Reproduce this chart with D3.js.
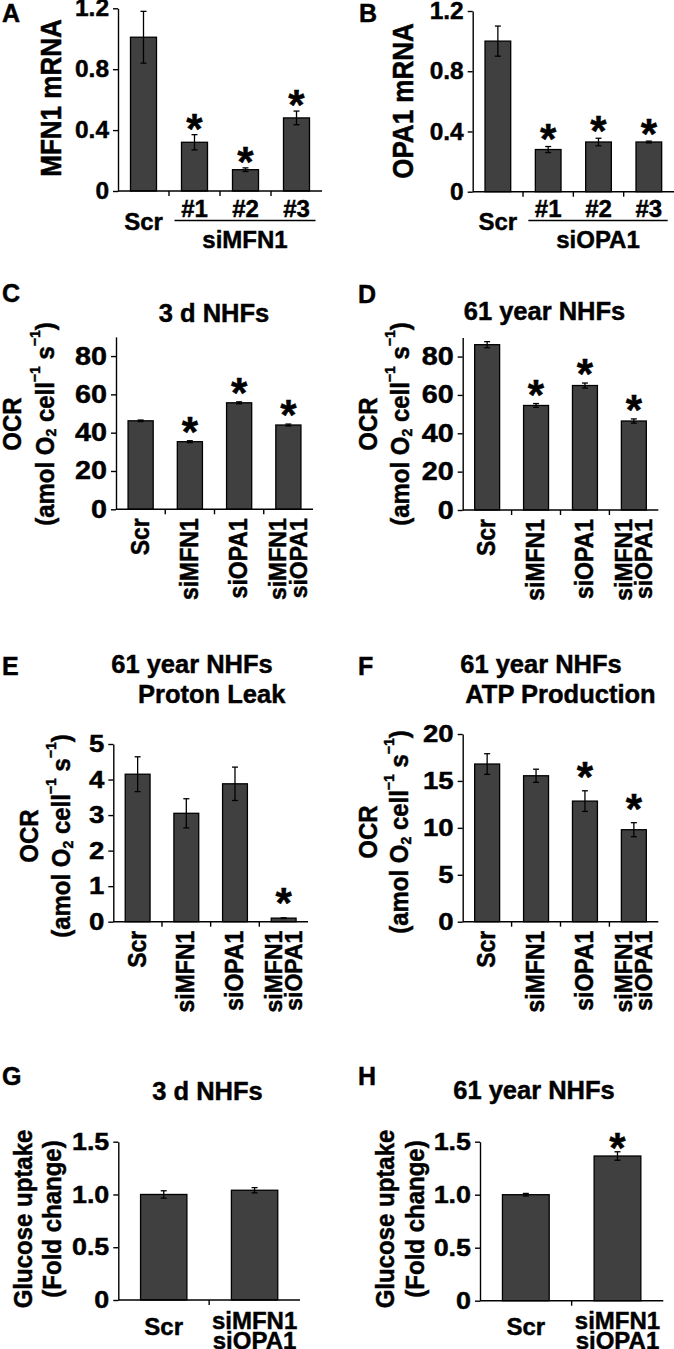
<!DOCTYPE html>
<html><head><meta charset="utf-8">
<script src="https://cdn.jsdelivr.net/npm/d3@7"></script>
<style>
body{margin:0;background:#fff}
svg{display:block}
text{font-family:"Liberation Sans",Arial,sans-serif;font-weight:bold;fill:#000;stroke:#000;stroke-width:0.45px}
</style>
</head><body>
<svg id="chart" width="674" height="1349"></svg>
<script>
// ---------- DATA ----------
const catsA = ["Scr", "#1", "#2", "#3"];
const valsA = [1.01, 0.32, 0.14, 0.48];
const errsA = [0.17, 0.05, 0.012, 0.045];
const sigA = [false, true, true, true];
const ticksA = [0, 0.4, 0.8, 1.2];
const tickLabelsA = ["0", "0.4", "0.8", "1.2"];

const catsB = ["Scr", "#1", "#2", "#3"];
const valsB = [1.0, 0.28, 0.33, 0.33];
const errsB = [0.1, 0.02, 0.025, 0.006];
const sigB = [false, true, true, true];
const ticksB = [0, 0.4, 0.8, 1.2];
const tickLabelsB = ["0", "0.4", "0.8", "1.2"];

const catsOCR = ["Scr", "siMFN1", "siOPA1", "siMFN1 siOPA1"];

const valsC = [46.2, 35.3, 55.6, 44.0];
const errsC = [0.4, 0.5, 0.5, 0.5];
const sigC = [false, true, true, true];
const ticksC = [0, 20, 40, 60, 80];

const valsD = [86.2, 54.5, 64.9, 46.4];
const errsD = [1.6, 1.0, 1.3, 1.1];
const sigD = [false, true, true, true];
const ticksD = [0, 20, 40, 60, 80];

const valsE = [4.15, 3.05, 3.88, 0.1];
const errsE = [0.49, 0.41, 0.47, 0.01];
const sigE = [false, false, false, true];
const ticksE = [0, 1, 2, 3, 4, 5];

const valsF = [16.8, 15.55, 12.85, 9.8];
const errsF = [1.1, 0.7, 1.1, 0.75];
const sigF = [false, false, true, true];
const ticksF = [0, 5, 10, 15, 20];

const catsGH = ["Scr", "siMFN1 siOPA1"];
const valsG = [1.0, 1.04];
const errsG = [0.035, 0.025];
const sigG = [false, false];
const valsH = [1.0, 1.365];
const errsH = [0.012, 0.04];
const sigH = [false, true];
const ticksGH = [0, 0.5, 1.0, 1.5];
const tickLabelsGH = ["0", "0.5", "1.0", "1.5"];

// ---------- DRAWING ----------
const svg = d3.select("#chart");
svg.append("rect").attr("width", 674).attr("height", 1349).attr("fill", "#fff");

const BAR_FILL = "#404040";

function panel(p) {
  const g = svg.append("g");
  const x = d3.scaleBand().domain(p.cats).range([p.x0, p.x1])
    .paddingInner(0.49).paddingOuter(0.245);
  const y = d3.scaleLinear().domain(p.domain).range([p.y0, p.y1]);
  const rows = p.cats.map((c, i) => ({c, v: p.vals[i], e: p.errs[i], s: p.sig[i]}));

  // bars
  g.selectAll("rect.bar").data(rows).join("rect")
    .attr("x", d => x(d.c)).attr("y", d => y(d.v))
    .attr("width", x.bandwidth()).attr("height", d => y(0) - y(d.v))
    .attr("fill", BAR_FILL).attr("stroke", "#000").attr("stroke-width", 1.3);

  // error bars
  const eb = g.selectAll("g.eb").data(rows.filter(d => d.e > 0)).join("g");
  const cx = d => x(d.c) + x.bandwidth() / 2;
  eb.append("line").attr("x1", cx).attr("x2", cx)
    .attr("y1", d => y(d.v - d.e)).attr("y2", d => y(d.v + d.e))
    .attr("stroke", "#000").attr("stroke-width", 1.3);
  [1, -1].forEach(sg => {
    eb.append("line").attr("x1", d => cx(d) - 3).attr("x2", d => cx(d) + 3)
      .attr("y1", d => y(d.v + sg * d.e)).attr("y2", d => y(d.v + sg * d.e))
      .attr("stroke", "#000").attr("stroke-width", 1.3);
  });

  // significance stars
  const fs = 42;
  g.selectAll("text.star").data(rows.filter(d => d.s)).join("text")
    .attr("x", cx).attr("y", d => y(d.v + d.e) - p.gap + 0.57 * fs)
    .attr("text-anchor", "middle").attr("font-size", fs).text("*");

  // y axis
  const ts = p.tickStretch || 1;
  const ya = d3.axisLeft(y).tickValues(p.ticks).tickSize(5).tickSizeOuter(0).tickPadding(4)
    .tickFormat((d, i) => p.tickLabels ? p.tickLabels[i] : d3.format("d")(d));
  const yg = g.append("g").attr("transform", `translate(${p.x0},0)`).call(ya);
  yg.attr("font-family", null).attr("font-size", null);
  yg.select(".domain").attr("stroke", "#000").attr("stroke-width", 1.4);
  yg.selectAll(".tick line").attr("stroke", "#000").attr("stroke-width", 1.4);
  yg.selectAll(".tick text").attr("font-size", p.tickFont || 24)
    .attr("fill", "#000").attr("x", -9 / ts).attr("transform", `scale(${ts},1)`);

  // x axis line + ticks at band boundaries
  g.append("line").attr("x1", p.x0).attr("x2", p.x1).attr("y1", p.y0).attr("y2", p.y0)
    .attr("stroke", "#000").attr("stroke-width", 1.4);
  const bounds = p.cats.slice(1).map(c => x(c) - x.step() * x.paddingInner() / 2);
  g.selectAll("line.xt").data(bounds).join("line")
    .attr("x1", d => d).attr("x2", d => d).attr("y1", p.y0).attr("y2", p.y0 + 5)
    .attr("stroke", "#000").attr("stroke-width", 1.4);

  // panel letter
  g.append("text").attr("x", p.letterX).attr("y", p.letterY)
    .attr("font-size", 25).text(p.letter);

  return {g, x, y};
}

function yTitle(g, cy, lines, fs, st) {
  lines.forEach(l => {
    const t = g.append("text")
      .attr("transform", `translate(${l.x},${cy}) rotate(-90) scale(1,${st || 1})`)
      .attr("text-anchor", "middle").attr("dominant-baseline", "central")
      .attr("font-size", fs);
    if (l.ocr) {
      t.append("tspan").text("(amol O");
      t.append("tspan").attr("dy", 6).attr("font-size", 14).text("2");
      t.append("tspan").attr("dy", -6).text(" cell");
      t.append("tspan").attr("dy", -9).attr("font-size", 14).text("\u22121");
      t.append("tspan").attr("dy", 9).text(" s");
      t.append("tspan").attr("dy", -9).attr("font-size", 14).text("\u22121");
      t.append("tspan").attr("dy", 9).text(")");
    } else {
      t.text(l.text);
    }
  });
}

function title(g, cx, by, txt) {
  g.append("text").attr("x", cx).attr("y", by).attr("text-anchor", "middle")
    .attr("font-size", 25.5).text(txt);
}

// ----- A & B -----
function mrnaPanel(p, groupLabel, ytitle, ytX, ytY) {
  const {g, x} = panel(p);
  yTitle(g, ytY, [{x: ytX, text: ytitle}], 26, 1.1);
  p.cats.forEach((c, i) => {
    const cx = x(c) + x.bandwidth() / 2;
    g.append("text").attr("x", cx).attr("y", i === 0 ? 230 : 217)
      .attr("text-anchor", "middle").attr("font-size", 24).text(c);
  });
  const gx0 = x(p.cats[1]) - 7, gx1 = x(p.cats[3]) + x.bandwidth() + 6;
  g.append("line").attr("x1", gx0).attr("x2", gx1).attr("y1", 220.5).attr("y2", 220.5)
    .attr("stroke", "#000").attr("stroke-width", 1.3);
  g.append("text").attr("x", (gx0 + gx1) / 2).attr("y", 248)
    .attr("text-anchor", "middle").attr("font-size", 24).text(groupLabel);
}

mrnaPanel({cats: catsA, vals: valsA, errs: errsA, sig: sigA, ticks: ticksA, tickLabels: tickLabelsA,
  domain: [0, 1.2], x0: 118, x1: 322, y0: 191, y1: 8.3, gap: 16, letter: "A", letterX: 2, letterY: 22,
  tickFont: 24, tickStretch: 1.02},
  "siMFN1", "MFN1 mRNA", 51, 98);
mrnaPanel({cats: catsB, vals: valsB, errs: errsB, sig: sigB, ticks: ticksB, tickLabels: tickLabelsB,
  domain: [0, 1.2], x0: 472.7, x1: 674, y0: 191.7, y1: 11, gap: 17, letter: "B", letterX: 359, letterY: 22,
  tickFont: 24, tickStretch: 1.02},
  "siOPA1", "OPA1 mRNA", 403, 101);

// ----- C, D, E, F -----
function ocrPanel(p, ocrX, lineX, ytY) {
  const {g, x} = panel(p);
  yTitle(g, ytY, [{x: ocrX, text: "OCR"}, {x: lineX, ocr: true}], 24, 1.08);
  p.cats.forEach(c => {
    const cx = x(c) + x.bandwidth() / 2;
    const lines = c.split(" ");
    lines.forEach((l, k) => {
      const off = lines.length === 1 ? -1 : (k === 0 ? -10.2 : 10.2);
      const st = lines.length === 1 ? 1.12 : 1.02;
      g.append("text")
        .attr("transform", `translate(${cx + off},${p.y0 + 9}) rotate(-90) scale(1,${st})`)
        .attr("text-anchor", "end").attr("dominant-baseline", "central")
        .attr("font-size", 23).text(l);
    });
  });
  return g;
}

const gC = ocrPanel({cats: catsOCR, vals: valsC, errs: errsC, sig: sigC, ticks: ticksC,
  domain: [0, 90], x0: 116, x1: 313, y0: 509.3, y1: 336.9, gap: 18.5, letter: "C", letterX: 2, letterY: 302,
  tickFont: 25, tickStretch: 1.15},
  11.7, 44.5, 424);
title(gC, 214, 322, "3 d NHFs");

const gD = ocrPanel({cats: catsOCR, vals: valsD, errs: errsD, sig: sigD, ticks: ticksD,
  domain: [0, 90], x0: 462.7, x1: 658.3, y0: 510, y1: 337.4, gap: 18.5, letter: "D", letterX: 358, letterY: 303,
  tickFont: 25, tickStretch: 1.15},
  367.5, 400, 424);
title(gD, 544.5, 320, "61 year NHFs");

const gE = ocrPanel({cats: catsOCR, vals: valsE, errs: errsE, sig: sigE, ticks: ticksE,
  domain: [0, 5], x0: 113.3, x1: 308, y0: 921.7, y1: 744, gap: 25, letter: "E", letterX: 2, letterY: 675,
  tickFont: 24, tickStretch: 1.15},
  28.5, 61, 836);
title(gE, 192, 673, "61 year NHFs");
title(gE, 211.7, 703, "Proton Leak");

const gF = ocrPanel({cats: catsOCR, vals: valsF, errs: errsF, sig: sigF, ticks: ticksF,
  domain: [0, 20], x0: 462.7, x1: 658.3, y0: 921.7, y1: 734, gap: 24, letter: "F", letterX: 358, letterY: 675,
  tickFont: 24, tickStretch: 1.15},
  367.5, 399, 832);
title(gF, 541, 673, "61 year NHFs");
title(gF, 560.5, 703, "ATP Production");

// ----- G, H -----
function gluPanel(p, gluX, foldX, ytY) {
  const {g, x} = panel(p);
  yTitle(g, ytY, [{x: gluX, text: "Glucose uptake"}, {x: foldX, text: "(Fold change)"}], 24, 1.08);
  p.cats.forEach(c => {
    const cx = x(c) + x.bandwidth() / 2;
    const lines = c.split(" ");
    lines.forEach((l, k) => {
      g.append("text").attr("x", cx).attr("y", lines.length === 1 ? 1335 : 1329 + k * 20)
        .attr("text-anchor", "middle").attr("font-size", 24).text(l);
    });
  });
  return g;
}

const gG = gluPanel({cats: catsGH, vals: valsG, errs: errsG, sig: sigG, ticks: ticksGH, tickLabels: tickLabelsGH,
  domain: [0, 1.5], x0: 118.3, x1: 300, y0: 1300, y1: 1141.7, gap: 14, letter: "G", letterX: 2, letterY: 1085,
  tickFont: 24, tickStretch: 1.12},
  23, 51.5, 1219);
title(gG, 207.5, 1100, "3 d NHFs");

const gH = gluPanel({cats: catsGH, vals: valsH, errs: errsH, sig: sigH, ticks: ticksGH, tickLabels: tickLabelsGH,
  domain: [0, 1.5], x0: 480, x1: 663.3, y0: 1300.7, y1: 1141.7, gap: 13.5, letter: "H", letterX: 358, letterY: 1085,
  tickFont: 24, tickStretch: 1.12},
  385, 414.5, 1219);
title(gH, 534, 1099, "61 year NHFs");
</script>
</body></html>
